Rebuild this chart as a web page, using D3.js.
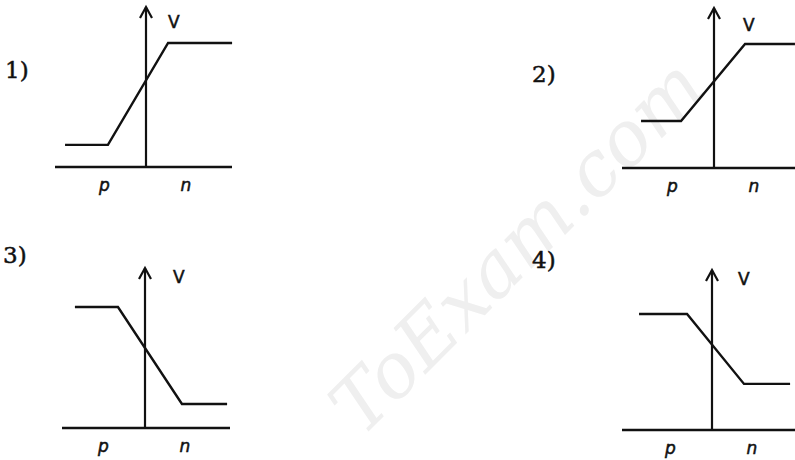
<!DOCTYPE html>
<html>
<head>
    <meta charset="utf-8" />
    <title>V across p-n junction</title>
    <style>
        body { margin: 0; background: #fff; }
        .curve { stroke: #111; stroke-width: 2.4; fill: none; stroke-linejoin: miter; }
        .num { font-family: "DejaVu Serif", serif; font-size: 23px; fill: #111; stroke: #111; stroke-width: 0.5; }
        .vlab { font-family: "DejaVu Sans", sans-serif; font-size: 17px; fill: #111; stroke: #111; stroke-width: 0.5; }
        .side { font-family: "DejaVu Sans", sans-serif; font-style: italic; font-size: 17px; fill: #111; stroke: #111; stroke-width: 0.5; }
    </style>
</head>
<body>
<svg width="795" height="460"></svg>
<script src="https://cdnjs.cloudflare.com/ajax/libs/d3/7.8.5/d3.min.js"></script>
<script>

    // option numbers
    var options = ["1)", "2)", "3)", "4)"];

    // x: position across junction (p < 0 < n), V: potential, arbitrary units
    var xValues1 = [-5.06, -2.38, 1.38, 5.38];
    var vValues1 = [1.38, 1.38, 7.75, 7.75];

    var xValues2 = [-4.56, -2.06, 1.94, 5.06];
    var vValues2 = [2.94, 2.94, 7.75, 7.75];

    var xValues3 = [-4.38, -1.69, 2.31, 5.13];
    var vValues3 = [7.56, 7.56, 1.5, 1.5];

    var xValues4 = [-4.56, -1.56, 2.0, 4.88];
    var vValues4 = [7.25, 7.25, 2.88, 2.88];

    var seriesX = [xValues1, xValues2, xValues3, xValues4];
    var seriesV = [vValues1, vValues2, vValues3, vValues4];

    var axisLabel = "V";
    var sideLabels = ["p", "n"];
    var sideX = [-2.6, 2.5];

    // panel placement (pixels)
    var layout = [
        {ox: 146, oy: 167, left: 55,  right: 232, lx: 5,   ly: 78,  vx: 168, vy: 28},
        {ox: 714, oy: 168, left: 622, right: 800, lx: 532, ly: 82,  vx: 743, vy: 31},
        {ox: 145, oy: 428, left: 62,  right: 230, lx: 3,   ly: 263, vx: 173, vy: 283},
        {ox: 712, oy: 430, left: 622, right: 800, lx: 532, ly: 268, vx: 738, vy: 285}
    ];

    var svg = d3.select("svg");

    // faint watermark
    svg.append("text")
        .attr("transform", "translate(362,438) rotate(-45)")
        .attr("font-family", "DejaVu Serif, serif")
        .attr("font-style", "italic")
        .attr("font-size", 76)
        .attr("fill", "#efefef")
        .text("ToExam.com");

    options.forEach(function(opt, i) {
        var L = layout[i];
        var g = svg.append("g");

        var x = d3.scaleLinear().domain([-6, 6]).range([L.ox - 96, L.ox + 96]);
        var y = d3.scaleLinear().domain([0, 10]).range([L.oy, L.oy - 160]);

        // horizontal axis
        g.append("line")
            .attr("x1", L.left).attr("x2", L.right)
            .attr("y1", y(0)).attr("y2", y(0))
            .style("stroke", "#111").style("stroke-width", 2.4);

        // vertical axis with open arrow head
        g.append("line")
            .attr("x1", x(0)).attr("x2", x(0))
            .attr("y1", y(0)).attr("y2", y(10))
            .style("stroke", "#111").style("stroke-width", 2.2);
        g.append("path")
            .attr("d", "M" + (x(0) - 6) + "," + (y(10) + 11) + "L" + x(0) + "," + y(10) + "L" + (x(0) + 6) + "," + (y(10) + 11))
            .style("stroke", "#111").style("stroke-width", 2.2).style("fill", "none");

        var pts = seriesX[i].map(function(d, k) { return [d, seriesV[i][k]]; });
        var line = d3.line()
            .x(function(d) { return x(d[0]); })
            .y(function(d) { return y(d[1]); });

        g.append("path").attr("class", "curve").attr("d", line(pts));

        g.append("text").attr("class", "num")
            .attr("x", L.lx).attr("y", L.ly).text(opt);

        g.append("text").attr("class", "vlab")
            .attr("x", L.vx).attr("y", L.vy).text(axisLabel);

        g.selectAll(".side")
            .data(sideLabels)
            .enter().append("text")
            .attr("class", "side")
            .attr("text-anchor", "middle")
            .attr("x", function(d, k) { return x(sideX[k]); })
            .attr("y", y(0) + 24)
            .text(function(d) { return d; });
    });

</script>
</body>
</html>
